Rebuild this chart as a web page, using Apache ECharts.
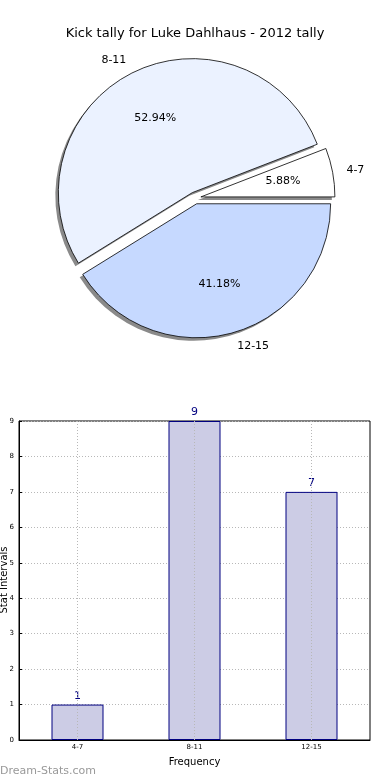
<!DOCTYPE html>
<html>
<head>
<meta charset="utf-8">
<script src="https://cdn.jsdelivr.net/npm/echarts@6/dist/echarts.min.js"></script>
<style>html,body{margin:0;padding:0;background:#fff}#c{width:390px;height:780px}</style>
</head>
<body>
<div id="c"></div>
<script>
var titleText = 'Kick tally for Luke Dahlhaus - 2012 tally';
var categories = ['4-7', '8-11', '12-15'];
var counts = [1, 9, 7];
var pieColors = ['#ffffff', '#ebf2ff', '#c6d9ff'];
var yTicks = [0, 9, 1]; // min, max, interval
var xName = 'Frequency';
var yName = 'Stat Intervals';
var watermark = 'Dream-Stats.com';

var FONT = 'DejaVu Sans';
var chart = echarts.init(document.getElementById('c'), null, {renderer: 'canvas'});

var CX = 195, CY = 198, R = 134, OFF = 6;

function pieItems(withColor) {
  return categories.map(function (c, i) {
    var d = {name: c, value: counts[i], selected: true};
    if (withColor) d.itemStyle = {color: pieColors[i]};
    return d;
  });
}

var pieBase = {
  type: 'pie', startAngle: 0, clockwise: false,
  selectedMode: 'multiple', selectedOffset: OFF,
  avoidLabelOverlap: false, emphasis: {disabled: true}, silent: true
};

var option = {
  animation: false,
  backgroundColor: '#ffffff',
  textStyle: {fontFamily: FONT},
  title: {
    text: titleText, left: 'center', top: 22,
    textStyle: {fontFamily: FONT, fontSize: 13, fontWeight: 'normal', color: '#000'}
  },
  graphic: [{
    type: 'text', left: 0, top: 766,
    style: {text: watermark, fill: '#999999', font: '11px "DejaVu Sans"'}
  }, {
    type: 'text', x: 4, y: 580, rotation: Math.PI / 2,
    style: {text: yName, fill: '#000', font: '10px "DejaVu Sans"', textAlign: 'center', textVerticalAlign: 'middle'}
  }],
  grid: {left: 19, right: 20, top: 421, bottom: 40, show: true, borderColor: '#000', borderWidth: 1,
         containLabel: false, outerBoundsMode: 'none'},
  xAxis: {
    type: 'category', data: categories,
    name: xName, nameLocation: 'middle', nameGap: 17,
    nameTextStyle: {fontFamily: FONT, fontSize: 10, color: '#000'},
    axisLine: {lineStyle: {color: '#000'}},
    axisTick: {alignWithLabel: true, inside: true, length: 3, lineStyle: {color: '#000'}},
    axisLabel: {fontFamily: FONT, fontSize: 7, color: '#000', margin: 4},
    splitLine: {show: false}
  },
  yAxis: {
    type: 'value', min: yTicks[0], max: yTicks[1], interval: yTicks[2],
    axisLine: {show: true, lineStyle: {color: '#000'}},
    axisTick: {show: true, inside: true, length: 3, lineStyle: {color: '#000'}},
    axisLabel: {fontFamily: FONT, fontSize: 7, color: '#000', margin: 5},
    splitLine: {show: true, lineStyle: {color: '#b8b8b8', type: [1, 2], width: 1}}
  },
  series: [
    Object.assign({}, pieBase, {
      center: [CX - 3, CY + 3], radius: R,
      data: pieItems(false),
      itemStyle: {color: '#8a8a8a', borderWidth: 0},
      label: {show: false}, labelLine: {show: false}, z: 0
    }),
    Object.assign({}, pieBase, {
      center: [CX, CY], radius: R,
      data: pieItems(true),
      itemStyle: {borderColor: '#000', borderWidth: 0.8},
      label: {show: true, position: 'outside', formatter: '{b}', fontFamily: FONT, fontSize: 11, color: '#000', distanceToLabelLine: 0},
      labelLine: {show: false, length: 14, length2: 0}, z: 1
    }),
    Object.assign({}, pieBase, {
      center: [CX, CY], radius: [R * 0.2, R],
      data: pieItems(false),
      itemStyle: {color: 'rgba(0,0,0,0)', borderWidth: 0},
      label: {show: true, position: 'inside', formatter: '{d}%', fontFamily: FONT, fontSize: 11, color: '#000'},
      labelLine: {show: false}, z: 2
    }),
    {
      type: 'bar', data: counts, barWidth: 52,
      itemStyle: {color: '#ccccE5', borderColor: '#000080', borderWidth: 1},
      label: {show: true, position: 'top', distance: 3, fontFamily: FONT, fontSize: 11, color: '#000080'},
      markLine: {
        silent: true, symbol: 'none', label: {show: false},
        lineStyle: {color: '#b8b8b8', type: [1, 2], width: 1},
        data: categories.map(function (c) { return {xAxis: c}; })
      },
      emphasis: {disabled: true}
    }
  ]
};
chart.setOption(option);
</script>
</body>
</html>
